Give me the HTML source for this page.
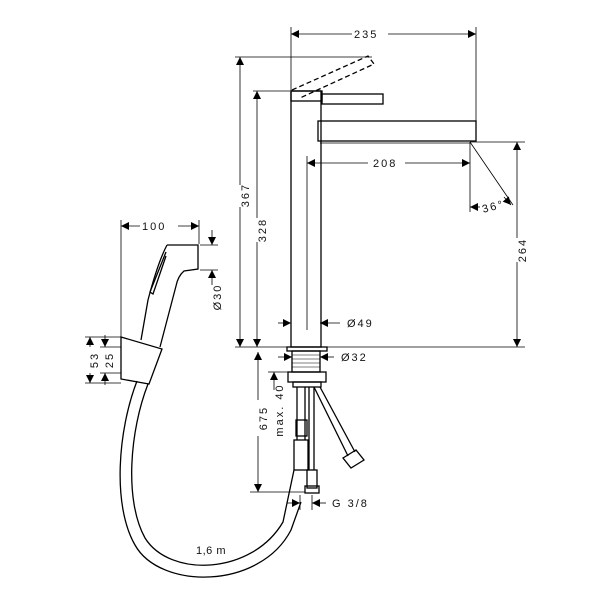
<!DOCTYPE html>
<html><head><meta charset="utf-8"><style>
html,body{margin:0;padding:0;background:#fff;}
svg{display:block;}
text{font-family:"Liberation Sans",sans-serif;font-size:11px;fill:#111;letter-spacing:2px;}
</style></head><body>
<svg width="605" height="600" viewBox="0 0 605 600" xmlns="http://www.w3.org/2000/svg">
<defs>
<marker id="a" viewBox="0 0 10 10" refX="10" refY="5" markerWidth="10" markerHeight="8" markerUnits="userSpaceOnUse" orient="auto-start-reverse"><path d="M0,0 L10,5 L0,10z" fill="#000"/></marker>
</defs>
<g stroke="#000" fill="none" stroke-width="0.8">
<line x1="291" y1="27" x2="291" y2="92"/>
<line x1="476" y1="27" x2="476" y2="121"/>
<line x1="235" y1="57" x2="372" y2="57"/>
<line x1="253" y1="91" x2="290" y2="91"/>
<line x1="235" y1="347" x2="525" y2="347"/>
<line x1="470" y1="142" x2="525" y2="142"/>
<line x1="307" y1="156" x2="307" y2="330"/>
<line x1="470" y1="142" x2="470" y2="212"/>
<line x1="470" y1="142" x2="513" y2="205"/>
<line x1="250" y1="492" x2="305" y2="492"/>
<line x1="121" y1="220" x2="121" y2="337"/>
<line x1="199" y1="220" x2="199" y2="244"/>
<line x1="200" y1="245" x2="218" y2="245"/>
<line x1="200" y1="270" x2="218" y2="270"/>
<line x1="85" y1="337" x2="121" y2="337"/>
<line x1="85" y1="383" x2="121" y2="383"/>
<line x1="100" y1="347" x2="121" y2="347"/>
<line x1="100" y1="373" x2="121" y2="373"/>
<line x1="268" y1="372" x2="288" y2="372"/>
<line x1="300" y1="495" x2="300" y2="510"/>
<line x1="312" y1="495" x2="312" y2="510"/>
<line x1="291" y1="34" x2="352" y2="34" marker-start="url(#a)"/><line x1="388" y1="34" x2="476" y2="34" marker-end="url(#a)"/>
<line x1="240" y1="57" x2="240" y2="185" marker-start="url(#a)"/><line x1="240" y1="207" x2="240" y2="347" marker-end="url(#a)"/>
<line x1="257" y1="91" x2="257" y2="218" marker-start="url(#a)"/><line x1="257" y1="242" x2="257" y2="347" marker-end="url(#a)"/>
<line x1="307" y1="163" x2="368" y2="163" marker-start="url(#a)"/><line x1="405" y1="163" x2="470" y2="163" marker-end="url(#a)"/>
<line x1="517" y1="142" x2="517" y2="238" marker-start="url(#a)"/><line x1="517" y1="262" x2="517" y2="347" marker-end="url(#a)"/>
<line x1="258" y1="352" x2="258" y2="400" marker-start="url(#a)"/><line x1="258" y1="436" x2="258" y2="492" marker-end="url(#a)"/>
<line x1="274" y1="372" x2="274" y2="390" marker-start="url(#a)"/>
<line x1="121" y1="226" x2="140" y2="226" marker-start="url(#a)"/><line x1="178" y1="226" x2="199" y2="226" marker-end="url(#a)"/>
<line x1="212" y1="230" x2="212" y2="245" marker-end="url(#a)"/><line x1="212" y1="285" x2="212" y2="270" marker-end="url(#a)"/>
<line x1="90" y1="337" x2="90" y2="347" marker-start="url(#a)"/><line x1="90" y1="373" x2="90" y2="383" marker-end="url(#a)"/>
<line x1="105" y1="335" x2="105" y2="347" marker-end="url(#a)"/><line x1="105" y1="385" x2="105" y2="373" marker-end="url(#a)"/>
<line x1="278" y1="323" x2="291" y2="323" marker-end="url(#a)"/><line x1="340" y1="323" x2="320" y2="323" marker-end="url(#a)"/>
<line x1="278" y1="357" x2="292" y2="357" marker-end="url(#a)"/><line x1="334" y1="357" x2="320" y2="357" marker-end="url(#a)"/>
<line x1="287" y1="503" x2="300" y2="503" marker-end="url(#a)"/><line x1="326" y1="503" x2="312" y2="503" marker-end="url(#a)"/>
<line x1="480" y1="207" x2="470" y2="207" marker-end="url(#a)"/>
<line x1="504" y1="197" x2="511" y2="205" marker-end="url(#a)"/>
</g>
<g stroke="#000" fill="none" stroke-width="1.3">
<rect x="291" y="91" width="30" height="256"/>
<rect x="291" y="91" width="31" height="10"/>
<rect x="322" y="94" width="61" height="10"/>
<rect x="318" y="121" width="158" height="20"/>
<line x1="320" y1="143" x2="470" y2="143" stroke-width="0.8"/>
<path d="M292,90 L368,56 L374,64 L300,98" stroke-dasharray="5,3"/>
<rect x="287" y="347" width="40" height="4"/>
<rect x="292" y="351" width="28" height="21"/>
<path d="M292,355h28M292,359h28M292,363h28M292,367h28" stroke-width="0.6"/>
<rect x="288" y="372" width="38" height="10"/>
<rect x="293" y="382" width="28" height="5"/>
<line x1="297" y1="387" x2="297" y2="440"/><line x1="305" y1="387" x2="305" y2="440"/>
<rect x="296" y="420" width="11" height="16"/>
<rect x="294" y="440" width="14" height="30"/>
<line x1="309" y1="387" x2="309" y2="470"/><line x1="314" y1="387" x2="314" y2="470"/>
<rect x="307" y="470" width="10" height="18"/><rect x="305" y="486" width="14" height="7"/>
<line x1="314" y1="387" x2="348" y2="456"/><line x1="320" y1="387" x2="355" y2="452"/>
<path d="M343,458 l13,-8 l8,10 l-13,8z"/>
<path d="M167,245 L198,245 L198,269 L184,271 Q178,276 176,286 L160,347"/>
<path d="M167,245 Q158,262 148,300 L141,340"/>
<path d="M166,252 L150,292 L153,294 L166,256"/>
<path d="M121,337 L162,349 L149,384 L121,379 Z"/>
<path d="M137,381 C118,430 112,505 135,545 C160,590 260,590 291,530 L301,502"/>
<path d="M148,384 C130,430 124,500 145,538 C170,578 252,575 283,522 L294,470"/>
</g>
<g>
<text x="354" y="38">235</text>
<text x="373" y="167">208</text>
<text x="482" y="211" transform="rotate(-15 490 207)">36°</text>
<text x="244" y="200" transform="rotate(-90 244 195)" text-anchor="middle">367</text>
<text x="261" y="235" transform="rotate(-90 261 230)" text-anchor="middle">328</text>
<text x="521" y="255" transform="rotate(-90 521 250)" text-anchor="middle">264</text>
<text x="262" y="423" transform="rotate(-90 262 418)" text-anchor="middle">675</text>
<text x="278" y="415" transform="rotate(-90 278 410)" text-anchor="middle">max. 40</text>
<text x="142" y="230">100</text>
<text x="216" y="302" transform="rotate(-90 216 297)" text-anchor="middle">Ø30</text>
<text x="94" y="364" transform="rotate(-90 94 360)" text-anchor="middle">53</text>
<text x="109" y="364" transform="rotate(-90 109 360)" text-anchor="middle">25</text>
<text x="347" y="327">Ø49</text>
<text x="341" y="361">Ø32</text>
<text x="332" y="507">G 3/8</text>
<text x="196" y="554" style="letter-spacing:0.5px">1,6 m</text>
</g>
</svg>
</body></html>
